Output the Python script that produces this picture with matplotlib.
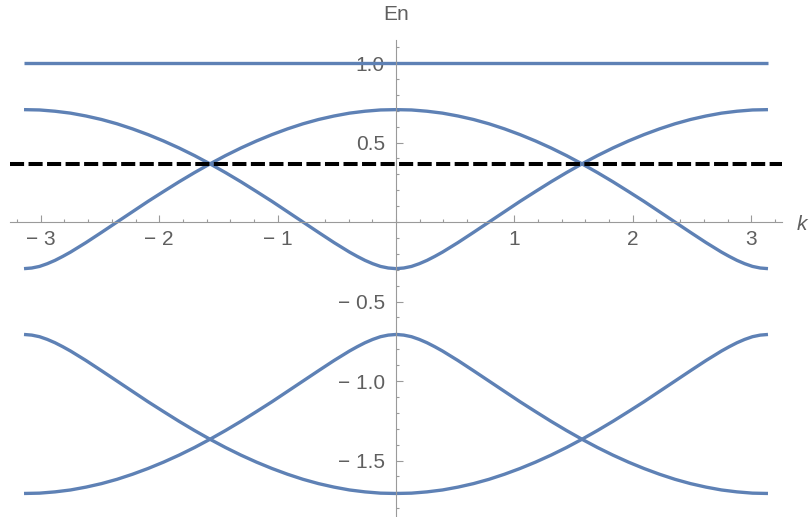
"""
Band structure E_n(k) over the first Brillouin zone, with a flat band at 1
and the Fermi level marked as a dashed line.
"""

import matplotlib
matplotlib.use("Agg")
import matplotlib.pyplot as plt
from matplotlib.ticker import FixedLocator, MultipleLocator
import numpy as np

# k in degrees, sampled more densely near the band edges at 0 and +-180
k_deg = [-180, -176.25, -172.5, -168.75, -165, -161.25, -157.5, -150, -142.5, -135,
         -127.5, -120, -112.5, -105, -97.5, -90, -82.5, -75, -67.5, -60, -52.5, -45,
         -37.5, -30, -22.5, -18.75, -15, -11.25, -7.5, -3.75, 0,
         3.75, 7.5, 11.25, 15, 18.75, 22.5, 30, 37.5, 45, 52.5, 60, 67.5, 75, 82.5,
         90, 97.5, 105, 112.5, 120, 127.5, 135, 142.5, 150, 157.5, 161.25, 165,
         168.75, 172.5, 176.25, 180]

band_upper_a = [0.707, 0.706, 0.705, 0.701, 0.697, 0.691, 0.685, 0.667, 0.645, 0.618,
                0.586, 0.550, 0.510, 0.466, 0.418, 0.366, 0.311, 0.253, 0.192, 0.130,
                0.065, 0.000, -0.065, -0.129, -0.189, -0.216, -0.241, -0.262, -0.279,
                -0.289, -0.293,
                -0.289, -0.279, -0.262, -0.241, -0.216, -0.189, -0.129, -0.065, 0.000,
                0.065, 0.130, 0.192, 0.253, 0.311, 0.366, 0.418, 0.466, 0.510, 0.550,
                0.586, 0.618, 0.645, 0.667, 0.685, 0.691, 0.697, 0.701, 0.705, 0.706,
                0.707]
band_upper_b = [-0.293, -0.289, -0.279, -0.262, -0.241, -0.216, -0.189, -0.129, -0.065,
                0.000, 0.065, 0.130, 0.192, 0.253, 0.311, 0.366, 0.418, 0.466, 0.510,
                0.550, 0.586, 0.618, 0.645, 0.667, 0.685, 0.691, 0.697, 0.701, 0.705,
                0.706, 0.707,
                0.706, 0.705, 0.701, 0.697, 0.691, 0.685, 0.667, 0.645, 0.618, 0.586,
                0.550, 0.510, 0.466, 0.418, 0.366, 0.311, 0.253, 0.192, 0.130, 0.065,
                0.000, -0.065, -0.129, -0.189, -0.216, -0.241, -0.262, -0.279, -0.289,
                -0.293]
band_lower_a = [-1.707, -1.706, -1.705, -1.701, -1.697, -1.691, -1.685, -1.667, -1.645,
                -1.618, -1.586, -1.550, -1.510, -1.466, -1.418, -1.366, -1.311, -1.253,
                -1.192, -1.130, -1.065, -1.000, -0.935, -0.871, -0.811, -0.784, -0.759,
                -0.738, -0.721, -0.711, -0.707,
                -0.711, -0.721, -0.738, -0.759, -0.784, -0.811, -0.871, -0.935, -1.000,
                -1.065, -1.130, -1.192, -1.253, -1.311, -1.366, -1.418, -1.466, -1.510,
                -1.550, -1.586, -1.618, -1.645, -1.667, -1.685, -1.691, -1.697, -1.701,
                -1.705, -1.706, -1.707]
band_lower_b = [-0.707, -0.711, -0.721, -0.738, -0.759, -0.784, -0.811, -0.871, -0.935,
                -1.000, -1.065, -1.130, -1.192, -1.253, -1.311, -1.366, -1.418, -1.466,
                -1.510, -1.550, -1.586, -1.618, -1.645, -1.667, -1.685, -1.691, -1.697,
                -1.701, -1.705, -1.706, -1.707,
                -1.706, -1.705, -1.701, -1.697, -1.691, -1.685, -1.667, -1.645, -1.618,
                -1.586, -1.550, -1.510, -1.466, -1.418, -1.366, -1.311, -1.253, -1.192,
                -1.130, -1.065, -1.000, -0.935, -0.871, -0.811, -0.784, -0.759, -0.738,
                -0.721, -0.711, -0.707]
flat_band = 1.0
fermi_level = 0.366

x_ticks = [-3, -2, -1, 1, 2, 3]
x_labels = ["\u2212 3", "\u2212 2", "\u2212 1", "1", "2", "3"]
y_ticks = [-1.5, -1.0, -0.5, 0.5, 1.0]
y_labels = ["\u2212 1.5", "\u2212 1.0", "\u2212 0.5", "0.5", "1.0"]

BLUE = "#5e81b5"
AXIS = "#9a9a9a"
TEXT = "#5f5f5f"

plt.rcParams["font.family"] = ["Liberation Sans", "DejaVu Sans"]

k = np.radians(k_deg)

W, H = 809, 517
fig = plt.figure(figsize=(W / 100, H / 100), dpi=100)
ax = fig.add_axes([10 / W, 0, 772 / W, 477 / H])
ax.set_xlim(-3.26, 3.26)
ax.set_ylim(-1.855, 1.145)

ax.plot([k[0], k[-1]], [flat_band, flat_band], color=BLUE, lw=2.4,
        solid_capstyle="butt")
for band in (band_upper_a, band_upper_b, band_lower_a, band_lower_b):
    ax.plot(k, band, color=BLUE, lw=2.4, solid_capstyle="butt",
            solid_joinstyle="round")
ax.axhline(fermi_level, color="black", lw=2.9, linestyle=(0, (3.5, 1.1)),
           dash_capstyle="butt")

# axes through the origin, ticks pointing into the plot
for side in ("top", "right"):
    ax.spines[side].set_visible(False)
ax.spines["left"].set_position(("data", 0))
ax.spines["bottom"].set_position(("data", 0))
for side in ("left", "bottom"):
    ax.spines[side].set_color(AXIS)
    ax.spines[side].set_linewidth(0.8)

ax.xaxis.set_major_locator(FixedLocator(x_ticks))
ax.set_xticklabels(x_labels)
ax.xaxis.set_minor_locator(MultipleLocator(0.2))
ax.yaxis.set_major_locator(FixedLocator(y_ticks))
ax.set_yticklabels(y_labels)
ax.yaxis.set_minor_locator(MultipleLocator(0.1))

ax.tick_params(which="both", direction="in", color=AXIS, width=0.8,
               labelcolor=TEXT, labelsize=15)
ax.tick_params(which="major", length=5)
ax.tick_params(which="minor", length=2.5)
ax.tick_params(axis="x", pad=6)
ax.tick_params(axis="y", pad=8)
ax.set_facecolor("none")

fig.text(396 / W, 1 - 15 / H, "En", ha="center", va="center",
         fontsize=15, color=TEXT)
fig.text(797 / W, 1 - 225 / H, "k", ha="left", va="center",
         fontsize=15, color=TEXT, style="italic")

fig.savefig("out.png", dpi=100)
